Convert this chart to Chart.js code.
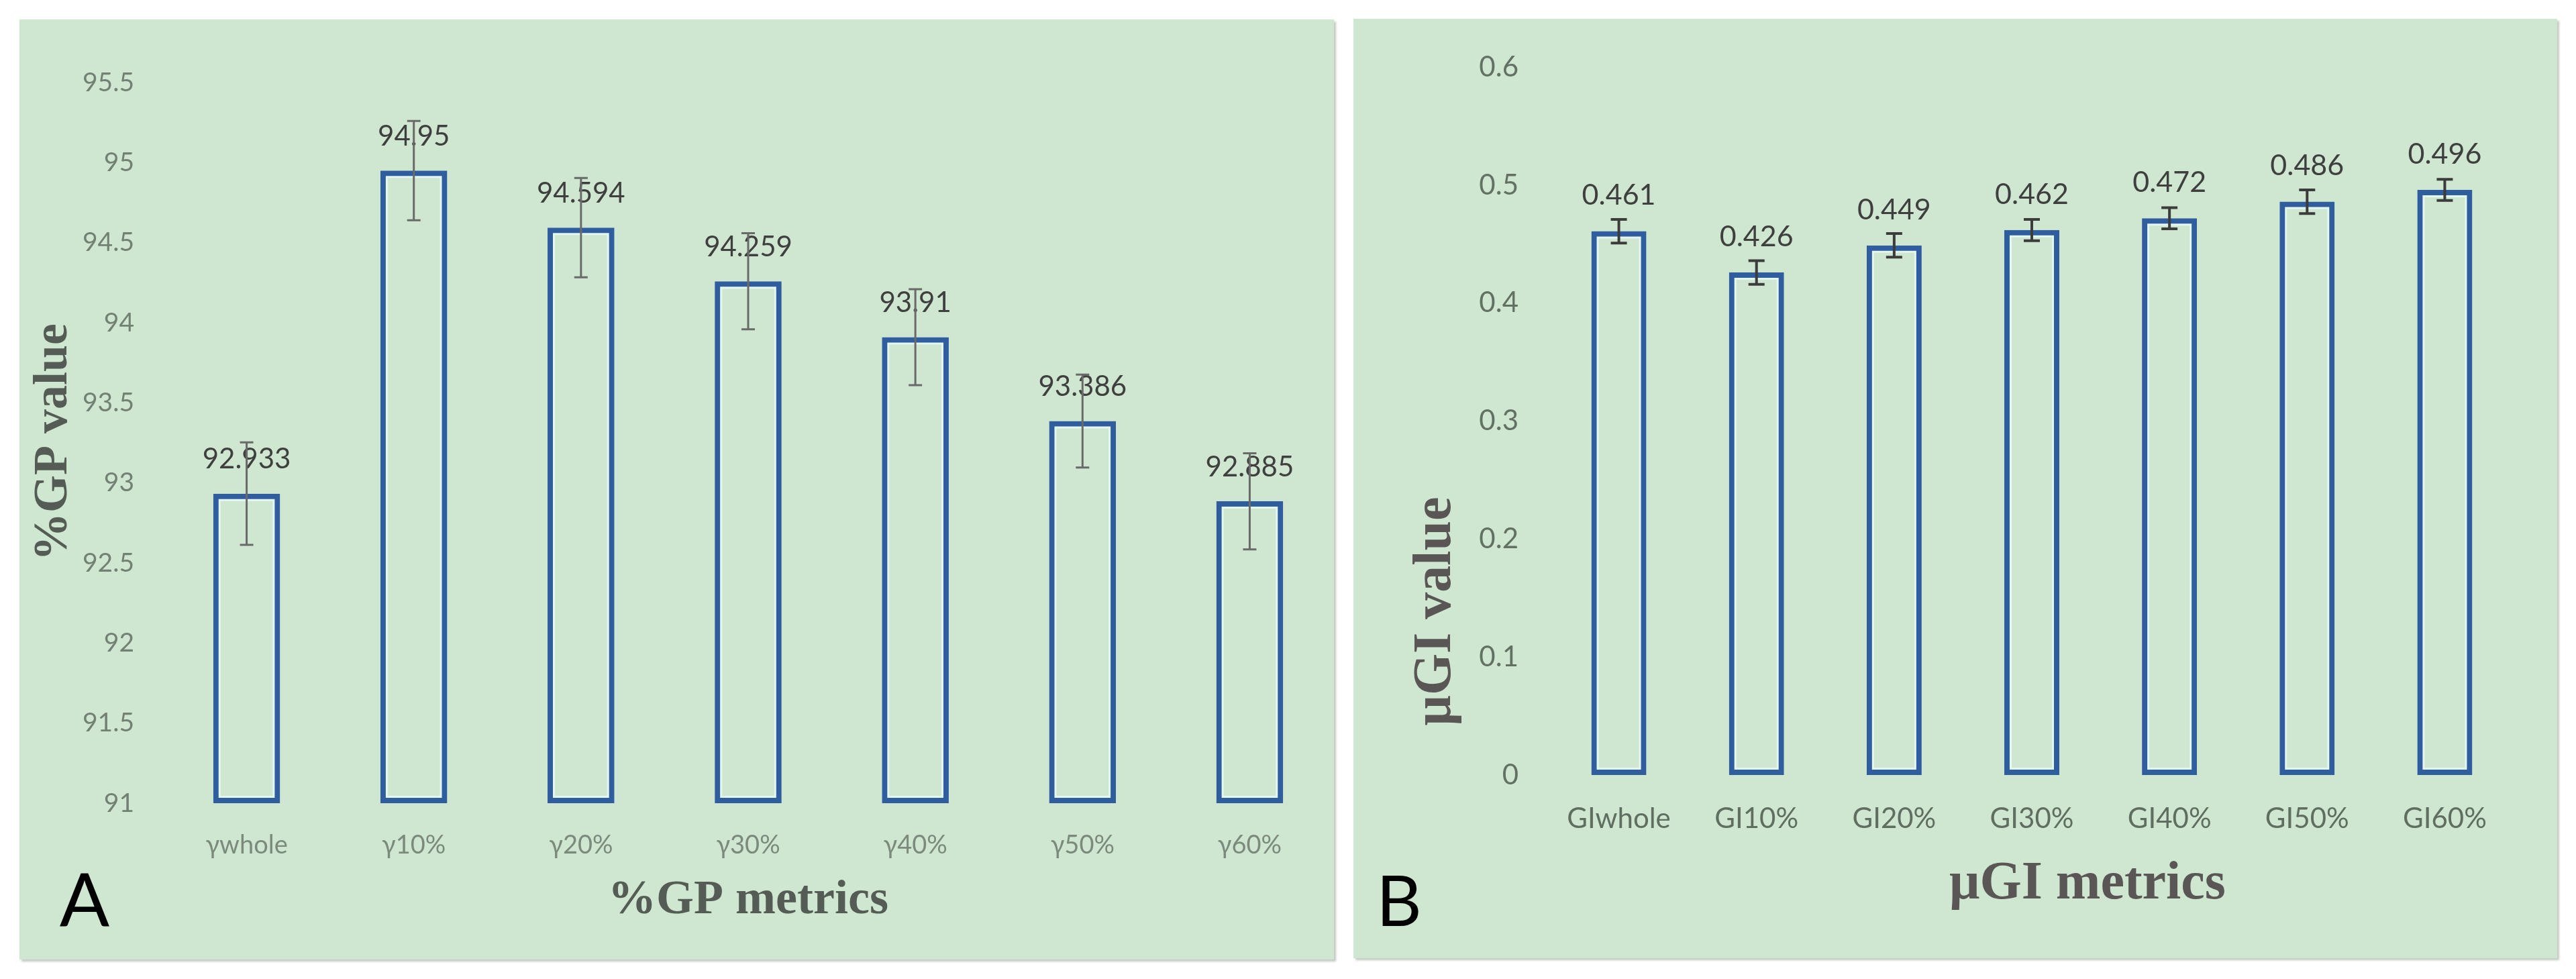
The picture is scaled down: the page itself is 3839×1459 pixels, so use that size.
<!DOCTYPE html>
<html><head><meta charset="utf-8">
<script src="https://cdn.jsdelivr.net/npm/chart.js@4.4.1/dist/chart.umd.min.js"></script>
<style>
html,body{margin:0;padding:0;background:#fff;width:3839px;height:1459px;overflow:hidden;}
.panel{position:absolute;background:#cfe7d0;box-shadow:3px 3px 3px #c3cac3;}
#pa{left:29px;top:29px;width:1959px;height:1401px;}
#pb{left:2017px;top:28px;width:1794px;height:1400px;}
canvas{display:block;}
</style></head><body>
<div class="panel" id="pa"><canvas id="ca"></canvas></div>
<div class="panel" id="pb"><canvas id="cb"></canvas></div>
<script>
// ---- Panel A data ----
const gpCategories = ['γwhole', 'γ10%', 'γ20%', 'γ30%', 'γ40%', 'γ50%', 'γ60%'];
const gpValues = [92.933, 94.95, 94.594, 94.259, 93.91, 93.386, 92.885];
const gpErrors = [0.32, 0.31, 0.31, 0.30, 0.30, 0.29, 0.30];
const gpValueLabels = ['92.933', '94.95', '94.594', '94.259', '93.91', '93.386', '92.885'];
const gpYTicks = [91, 91.5, 92, 92.5, 93, 93.5, 94, 94.5, 95, 95.5];
const gpYTickLabels = ['91', '91.5', '92', '92.5', '93', '93.5', '94', '94.5', '95', '95.5'];

// ---- Panel B data ----
const giCategories = ['GIwhole', 'GI10%', 'GI20%', 'GI30%', 'GI40%', 'GI50%', 'GI60%'];
const giValues = [0.461, 0.426, 0.449, 0.462, 0.472, 0.486, 0.496];
const giErrors = [0.010, 0.010, 0.010, 0.009, 0.009, 0.010, 0.009];
const giValueLabels = ['0.461', '0.426', '0.449', '0.462', '0.472', '0.486', '0.496'];
const giYTicks = [0, 0.1, 0.2, 0.3, 0.4, 0.5, 0.6];
const giYTickLabels = ['0', '0.1', '0.2', '0.3', '0.4', '0.5', '0.6'];

const BLUE = '#2f5d9e';
const HALO = '#e4f6f1';

function decorPlugin(c) {
  return {
    id: 'decor',
    afterDatasetsDraw(chart) {
      const ctx = chart.ctx, y = chart.scales.y;
      const meta = chart.getDatasetMeta(0);
      ctx.save();
      ctx.font = c.labelFont; ctx.fillStyle = c.labelColor;
      ctx.textAlign = 'center'; ctx.textBaseline = 'middle';
      meta.data.forEach((bar, i) => {
        ctx.fillText(c.labels[i], bar.x, y.getPixelForValue(c.values[i]) - c.labelOffset);
      });
      ctx.strokeStyle = c.errColor; ctx.lineWidth = c.errWidth;
      meta.data.forEach((bar, i) => {
        const t = y.getPixelForValue(c.values[i] + c.errors[i]);
        const b = y.getPixelForValue(c.values[i] - c.errors[i]);
        ctx.beginPath();
        ctx.moveTo(bar.x, t); ctx.lineTo(bar.x, b);
        ctx.moveTo(bar.x - c.cap, t); ctx.lineTo(bar.x + c.cap, t);
        ctx.moveTo(bar.x - c.cap, b); ctx.lineTo(bar.x + c.cap, b);
        ctx.stroke();
      });
      ctx.fillStyle = c.titleColor; ctx.font = c.titleFont;
      ctx.fillText(c.xTitle, c.xTitlePos[0], c.xTitlePos[1]);
      ctx.save();
      ctx.translate(c.yTitlePos[0], c.yTitlePos[1]); ctx.rotate(-Math.PI / 2);
      ctx.fillText(c.yTitle, 0, 0);
      ctx.restore();
      ctx.fillStyle = '#000'; ctx.font = c.letterFont;
      ctx.fillText(c.letter, c.letterPos[0], c.letterPos[1]);
      ctx.restore();
    }
  };
}

function makeChart(id, cats, vals, ticks, tickLabels, opt, decor) {
  const base = ticks[0];
  const common = { backgroundColor: 'rgba(0,0,0,0)', borderSkipped: false,
    barPercentage: 0.4, categoryPercentage: 1.0, grouped: false, base: base };
  return new Chart(document.getElementById(id), {
    type: 'bar',
    data: { labels: cats, datasets: [
      Object.assign({ data: vals, borderColor: BLUE, borderWidth: opt.bw, order: 0 }, common),
      Object.assign({ data: vals, borderColor: HALO, borderWidth: opt.bw + 3, order: 1 }, common)
    ]},
    options: {
      responsive: true, maintainAspectRatio: false, animation: false, devicePixelRatio: 1,
      layout: { padding: opt.padding },
      plugins: { legend: { display: false }, tooltip: { enabled: false } },
      scales: {
        x: {
          grid: { display: false, drawTicks: false }, border: { display: false },
          ticks: { font: { family: 'Lato', size: opt.xFont }, color: opt.xColor, padding: opt.xPad, maxRotation: 0, autoSkip: false },
          afterFit: s => { s.height = opt.xHeight; }
        },
        y: {
          min: ticks[0], max: ticks[ticks.length - 1],
          grid: { display: false, drawTicks: false }, border: { display: false },
          afterBuildTicks: s => { s.ticks = ticks.map(v => ({ value: v })); },
          ticks: { font: { family: 'Lato', size: opt.yFont }, color: opt.yColor, padding: opt.yPad,
            callback: (v, i) => tickLabels[i] },
          afterFit: s => { s.width = opt.yWidth; }
        }
      }
    },
    plugins: [decor]
  });
}

makeChart('ca', gpCategories, gpValues, gpYTicks, gpYTickLabels, {
  bw: 8, padding: { top: 94, right: 1, left: 0, bottom: 0 },
  xFont: 38, xColor: '#7c8a7d', xPad: 40, xHeight: 233,
  yFont: 39, yColor: '#738174', yPad: 43, yWidth: 214
}, decorPlugin({
  values: gpValues, errors: gpErrors, labels: gpValueLabels,
  labelFont: '42px Lato', labelColor: '#3f3f3f', labelOffset: 51,
  errColor: '#6a6a6a', errWidth: 3, cap: 10,
  titleFont: 'bold 72px "Liberation Serif"', titleColor: '#545c55',
  xTitle: '%GP metrics', xTitlePos: [1086, 1313],
  yTitle: '%GP value', yTitlePos: [51, 630],
  letter: 'A', letterFont: '110px Lato', letterPos: [97, 1317]
}));

makeChart('cb', giCategories, giValues, giYTicks, giYTickLabels, {
  bw: 8, padding: { top: 65, right: 65, left: 0, bottom: 0 },
  xFont: 42, xColor: '#5f6e60', xPad: 40, xHeight: 273,
  yFont: 42, yColor: '#627163', yPad: 47, yWidth: 293
}, decorPlugin({
  values: giValues, errors: giErrors, labels: giValueLabels,
  labelFont: '43px Lato', labelColor: '#3f3f3f', labelOffset: 53,
  errColor: '#3c3c3c', errWidth: 4, cap: 12,
  titleFont: 'bold 80px "Liberation Serif"', titleColor: '#5a5656',
  xTitle: 'μGI metrics', xTitlePos: [1094, 1290],
  yTitle: 'μGI value', yTitlePos: [123, 883],
  letter: 'B', letterFont: '105px Lato', letterPos: [68, 1318]
}));
</script>
</body></html>
